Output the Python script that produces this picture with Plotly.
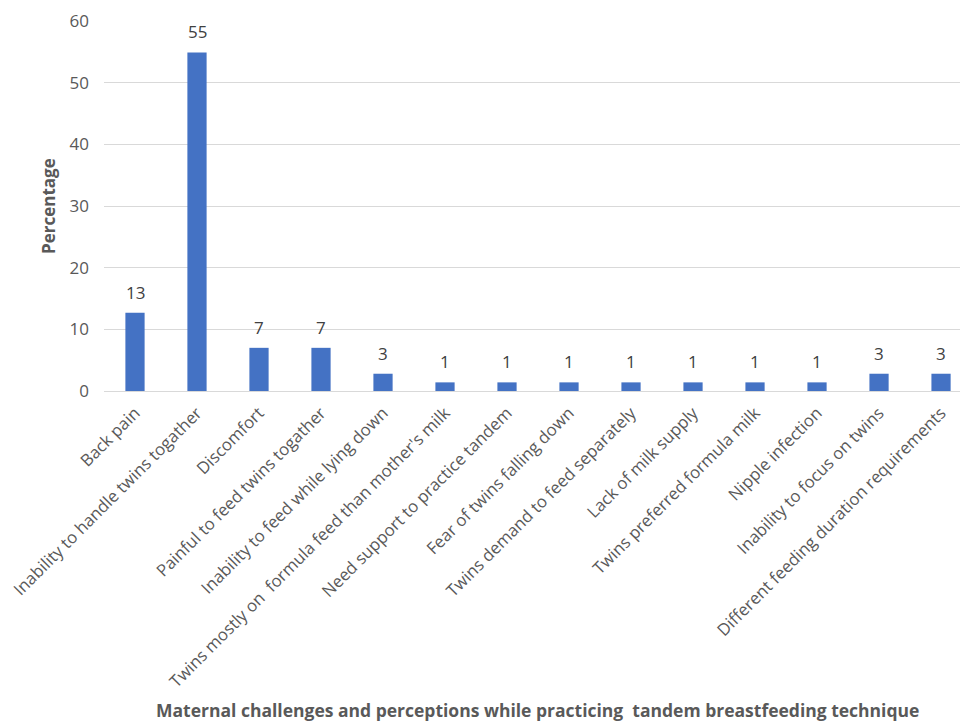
import plotly.graph_objects as go

categories = [
    "Back pain",
    "Inability to handle twins togather",
    "Discomfort",
    "Painful to feed twins togather",
    "Inability to feed while lying down",
    "Twins mostly on \u00a0formula feed than mother's milk",
    "Need support to practice tandem",
    "Fear of twins falling down",
    "Twins demand to feed separately",
    "Lack of milk supply",
    "Twins preferred formula milk",
    "Nipple infection",
    "Inability to focus on twins",
    "Different feeding duration requirements",
]
percentages = [12.7, 54.9, 7.0, 7.0, 2.8, 1.4, 1.4, 1.4, 1.4, 1.4, 1.4, 1.4, 2.8, 2.8]
y_ticks = [0, 10, 20, 30, 40, 50, 60]

FONT = "Open Sans"
GRAY = "#595959"

fig = go.Figure()
fig.add_trace(go.Bar(
    x=categories,
    y=percentages,
    width=0.31,
    marker=dict(color="#4472C4", line=dict(width=0)),
    hoverinfo="x+y",
))

annotations = []
for c, v in zip(categories, percentages):
    annotations.append(dict(
        x=c, y=v, xref="x", yref="y",
        text=f"{v:.0f}", showarrow=False,
        yanchor="bottom", yshift=7,
        font=dict(family=FONT, size=17, color="#404040"),
    ))

annotations.append(dict(
    x=-0.0654, y=0.5, xref="paper", yref="paper",
    text="<b>Percentage</b>", textangle=-90, showarrow=False,
    xanchor="center", yanchor="middle",
    font=dict(family=FONT, size=17, color=GRAY),
))
annotations.append(dict(
    x=0.506, y=-0.862, xref="paper", yref="paper",
    text="<b>Maternal challenges and perceptions while practicing \u00a0tandem breastfeeding technique</b>",
    showarrow=False, xanchor="center", yanchor="middle",
    borderpad=0,
    font=dict(family=FONT, size=17.5, color=GRAY),
))

fig.update_layout(
    width=960, height=723,
    margin=dict(l=104, r=0, t=21, b=332),
    paper_bgcolor="white", plot_bgcolor="white",
    showlegend=False,
    annotations=annotations,
    xaxis=dict(
        type="category",
        range=[-0.5, 13.306],
        tickangle=-45,
        tickfont=dict(family=FONT, size=16.8, color=GRAY),
        showgrid=False,
        showline=False,
        zeroline=False,
        ticks="",
        ticklabelstandoff=8,
    ),
    yaxis=dict(
        range=[0, 60],
        tickvals=y_ticks,
        tickfont=dict(family=FONT, size=17, color=GRAY),
        showgrid=True,
        gridcolor="#D9D9D9",
        gridwidth=1,
        zeroline=True,
        zerolinecolor="#D9D9D9",
        zerolinewidth=1,
        showline=False,
        ticks="",
        ticklabelstandoff=14,
    ),
)

fig.write_html("out.html")
